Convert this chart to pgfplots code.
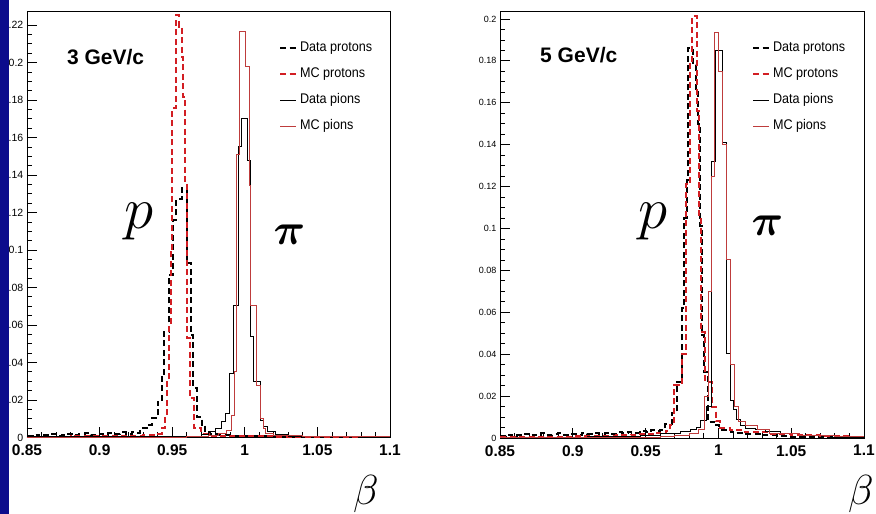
\RequirePackage{fix-cm}
\documentclass[border=0pt]{standalone}
\usepackage{fontspec}
\setmainfont{Liberation Sans}
\usepackage{amsmath}
\usepackage{graphicx}
\usepackage{pgfplots}
\pgfplotsset{compat=1.18}
\definecolor{navybar}{RGB}{12,12,140}
\definecolor{mcred}{RGB}{210,30,35}
\definecolor{mcpioncol}{RGB}{190,60,60}

\pgfplotsset{
  rootstyle/.style={
    scale only axis, xmin=0.85, xmax=1.1, ymin=0,
    axis line style={line width=0.9pt},
    tick align=inside, tick pos=left,
    major tick length=10pt, minor tick length=5pt,
    every tick/.style={black, line width=0.8pt},
    xtick={0.85,0.9,0.95,1,1.05,1.1},
    minor x tick num=4,
    minor y tick num=3,
    /pgf/number format/assume math mode=true,
    xticklabel style={font=\fontsize{15.5}{16}\selectfont\bfseries, inner sep=0pt, yshift=-7pt,
      /pgf/number format/fixed, /pgf/number format/precision=2},
    yticklabel style={inner sep=0pt, xshift=-3.5pt, /pgf/number format/fixed, /pgf/number format/precision=2},
    legend image code/.code={\draw[##1] (0pt,0pt) -- (16pt,0pt);},
    legend style={draw=none, fill=none, anchor=north west, inner sep=0pt,
      font=\fontsize{14}{15}\selectfont, row sep=11pt,
      nodes={inner sep=1pt, text height=10pt, text depth=3pt}, column sep=2pt},
    legend cell align=left,
  },
  dataprot/.style={black, line width=2pt, dash pattern=on 6pt off 3.5pt, const plot},
  mcprot/.style={mcred, line width=2pt, dash pattern=on 6pt off 3.5pt, const plot},
  datapion/.style={black, line width=0.9pt, const plot},
  mcpion/.style={mcpioncol, line width=0.9pt, const plot},
}

\begin{document}
\begin{tikzpicture}
\useasboundingbox (0pt,0pt) rectangle (876pt,514pt);

% ---------------- Left panel: 3 GeV/c ----------------
\begin{axis}[rootstyle, at={(27pt,76.5pt)}, anchor=south west,
  width=363pt, height=426.5pt, ymax=0.2275,
  ytick={0,0.02,0.04,0.06,0.08,0.1,0.12,0.14,0.16,0.18,0.2,0.22},
  yticklabel style={font=\fontsize{10.5}{11}\selectfont},
  legend style={at={(0.694,0.931)}}]
\addplot[dataprot] coordinates {
(0.850,0.0010)(0.854,0.0015)(0.858,0.0008)(0.862,0.0012)(0.866,0.0018)(0.870,0.0010)
(0.874,0.0014)(0.878,0.0020)(0.882,0.0012)(0.886,0.0016)(0.890,0.0022)(0.894,0.0013)
(0.898,0.0019)(0.902,0.0015)(0.906,0.0024)(0.910,0.0018)(0.914,0.0027)(0.918,0.0020)
(0.922,0.0030)(0.925,0.0025)(0.9278,0.0050)(0.9324,0.0067)(0.9359,0.0104)(0.9399,0.0191)
(0.9428,0.0324)(0.9446,0.0564)(0.9478,0.0867)(0.9503,0.116)(0.9526,0.127)(0.9565,0.1332)
(0.9602,0.0929)(0.9629,0.0547)(0.9645,0.0264)(0.9669,0.011)(0.9703,0.0067)(0.9726,0.003)
(0.976,0.002)(0.982,0.0015)(0.990,0.001)(1.000,0.0008)(1.020,0.0005)(1.050,0.0003)
(1.080,0.0002)(1.100,0.0002)};
\addlegendentry{\scalebox{0.9}[1]{Data protons}}
\addplot[mcprot] coordinates {
(0.850,0.0004)(0.880,0.0006)(0.900,0.0008)(0.920,0.0010)(0.930,0.0013)(0.9382,0.0020)
(0.9428,0.0050)(0.9450,0.0104)(0.9464,0.0298)(0.9478,0.060)(0.9490,0.100)(0.9501,0.176)
(0.9528,0.2253)(0.9547,0.219)(0.9565,0.203)(0.9576,0.1817)(0.9590,0.1357)(0.9602,0.0529)
(0.9623,0.0209)(0.9652,0.005)(0.970,0.002)(0.975,0.001)(0.990,0.0006)(1.020,0.0004)
(1.050,0.0003)(1.100,0.0003)};
\addlegendentry{\scalebox{0.9}[1]{MC protons}}
\addplot[datapion] coordinates {
(0.850,0.0003)(0.900,0.0004)(0.940,0.0005)(0.960,0.0008)(0.970,0.0015)(0.975,0.003)
(0.980,0.005)(0.9841,0.0084)(0.9868,0.013)(0.9891,0.034)(0.9921,0.0707)(0.9955,0.155)
(0.9974,0.170)(1.0020,0.148)(1.0036,0.0538)(1.0063,0.0298)(1.0105,0.0093)(1.0127,0.0057)
(1.0155,0.003)(1.0208,0.0015)(1.030,0.0008)(1.050,0.0004)(1.080,0.0002)(1.100,0.0002)};
\addlegendentry{\scalebox{0.9}[1]{Data pions}}
\addplot[mcpion] coordinates {
(0.850,0.0002)(0.960,0.0005)(0.975,0.001)(0.982,0.002)(0.9875,0.004)(0.9910,0.012)
(0.9932,0.035)(0.9945,0.151)(0.9965,0.2168)(1.0006,0.1978)(1.0029,0.1347)(1.0041,0.0707)
(1.0082,0.028)(1.0105,0.010)(1.0125,0.005)(1.0139,0.002)(1.020,0.001)(1.040,0.0005)
(1.070,0.0003)(1.100,0.0003)};
\addlegendentry{\scalebox{0.9}[1]{MC pions}}
\node[anchor=west, inner sep=0pt, font=\fontsize{21}{22}\selectfont\bfseries] at (rel axis cs:0.110,0.892) {3 GeV/c};
\end{axis}

% ---------------- Right panel: 5 GeV/c ----------------
\begin{axis}[rootstyle, at={(500pt,76pt)}, anchor=south west,
  width=364pt, height=427pt, ymax=0.2038,
  ytick={0,0.02,0.04,0.06,0.08,0.1,0.12,0.14,0.16,0.18,0.2},
  yticklabel style={font=\fontsize{9}{10}\selectfont},
  legend style={at={(0.692,0.931)}}]
\addplot[dataprot] coordinates {
(0.850,0.0010)(0.854,0.0016)(0.858,0.0010)(0.862,0.0014)(0.866,0.0020)(0.870,0.0012)
(0.874,0.0016)(0.878,0.0022)(0.882,0.0014)(0.886,0.0018)(0.890,0.0022)(0.894,0.0015)
(0.898,0.0020)(0.902,0.0016)(0.906,0.0023)(0.910,0.0018)(0.914,0.0024)(0.918,0.0020)
(0.922,0.0026)(0.926,0.0021)(0.930,0.0028)(0.934,0.0024)(0.938,0.0030)(0.942,0.0026)
(0.946,0.0034)(0.950,0.0030)(0.954,0.0040)(0.957,0.0035)(0.960,0.0040)(0.9633,0.0065)
(0.9679,0.012)(0.9714,0.0268)(0.9748,0.062)(0.9767,0.105)(0.9782,0.123)(0.9793,0.186)
(0.9826,0.178)(0.9845,0.166)(0.9862,0.150)(0.9875,0.101)(0.9887,0.049)(0.9904,0.0316)
(0.9927,0.0078)(0.9973,0.006)(1.0007,0.004)(1.0088,0.003)(1.0123,0.0025)(1.0192,0.002)
(1.030,0.0012)(1.040,0.0008)(1.050,0.0006)(1.070,0.0004)(1.090,0.0003)(1.100,0.0003)};
\addlegendentry{\scalebox{0.9}[1]{Data protons}}
\addplot[mcprot] coordinates {
(0.850,0.0003)(0.880,0.0005)(0.900,0.0008)(0.920,0.0010)(0.930,0.0013)(0.940,0.0016)
(0.946,0.0020)(0.952,0.0018)(0.956,0.0025)(0.960,0.0022)(0.9640,0.0035)(0.9668,0.006)
(0.9695,0.0252)(0.9748,0.040)(0.9775,0.121)(0.9803,0.180)(0.9819,0.2015)(0.9852,0.156)
(0.9866,0.105)(0.9878,0.0506)(0.9908,0.0268)(0.9954,0.0149)(0.9984,0.008)(1.0011,0.005)
(1.008,0.004)(1.018,0.003)(1.035,0.002)(1.050,0.0012)(1.070,0.0008)(1.090,0.0006)(1.100,0.0006)};
\addlegendentry{\scalebox{0.9}[1]{MC protons}}
\addplot[datapion] coordinates {
(0.850,0.0004)(0.880,0.0005)(0.910,0.0006)(0.930,0.0008)(0.9462,0.0012)(0.9599,0.002)
(0.9736,0.003)(0.9805,0.004)(0.9848,0.005)(0.9880,0.0085)(0.9919,0.0150)(0.9949,0.132)
(0.9977,0.1848)(1.0027,0.141)(1.0052,0.0405)(1.0080,0.018)(1.0100,0.0135)(1.0126,0.009)
(1.0148,0.006)(1.0183,0.0045)(1.0251,0.004)(1.032,0.003)(1.0423,0.002)(1.056,0.001)
(1.0767,0.0005)(1.100,0.0005)};
\addlegendentry{\scalebox{0.9}[1]{Data pions}}
\addplot[mcpion] coordinates {
(0.850,0.0003)(0.900,0.0004)(0.930,0.0005)(0.960,0.0008)(0.970,0.001)(0.980,0.002)
(0.9860,0.004)(0.9901,0.02)(0.9931,0.07)(0.9949,0.125)(0.9970,0.1935)(0.9999,0.175)
(1.0025,0.14)(1.0052,0.085)(1.0080,0.035)(1.0107,0.015)(1.0135,0.008)(1.0183,0.006)
(1.0265,0.004)(1.0354,0.002)(1.056,0.001)(1.080,0.0006)(1.100,0.0006)};
\addlegendentry{\scalebox{0.9}[1]{MC pions}}
\node[anchor=west, inner sep=0pt, font=\fontsize{21}{22}\selectfont\bfseries] at (rel axis cs:0.110,0.897) {5 GeV/c};
\end{axis}

% Greek labels
\node[inner sep=0pt, font=\fontsize{59}{60}\selectfont] at (139pt,292.5pt) {$p$};
\node[inner sep=0pt, font=\fontsize{44}{45}\selectfont] at (289.5pt,279pt) {$\boldsymbol{\pi}$};
\node[inner sep=0pt, font=\fontsize{59}{60}\selectfont] at (652.5pt,292.5pt) {$p$};
\node[inner sep=0pt, font=\fontsize{44}{45}\selectfont] at (767.5pt,288pt) {$\boldsymbol{\pi}$};
\node[inner sep=0pt, anchor=base, font=\fontsize{42}{43}\selectfont] at (366pt,9.5pt) {$\beta$};
\node[inner sep=0pt, anchor=base, font=\fontsize{42}{43}\selectfont] at (861pt,9.5pt) {$\beta$};

% blue bar on the left edge
\fill[navybar] (0pt,0pt) rectangle (9pt,514pt);
\end{tikzpicture}
\end{document}
